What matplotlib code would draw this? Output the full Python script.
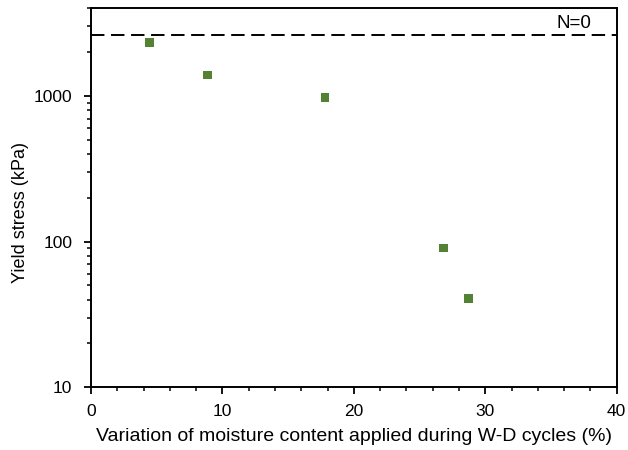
import matplotlib
matplotlib.use("Agg")
import matplotlib.pyplot as plt
from matplotlib.ticker import MultipleLocator, LogLocator, NullFormatter, FixedLocator, FixedFormatter

# -----------------------------
# Data
# -----------------------------
moisture_variation = [4.44, 8.88, 17.8, 26.8, 28.7]
yield_stress = [2330, 1395, 980, 90.5, 40.7]
reference_yield = 2630  # N=0
ref_label = "N=0"

x_label = "Variation of moisture content applied during W-D cycles (%)"
y_label = "Yield stress (kPa)"

plt.rcParams["font.family"] = ["Liberation Sans", "DejaVu Sans"]

fig = plt.figure(figsize=(6.28, 4.5), dpi=100)
ax = fig.add_axes([0.145, 0.1393, 0.837, 0.8423])

ax.axhline(reference_yield, color="black", lw=1.4, ls=(0, (6.9, 3.4)))
ax.scatter(moisture_variation, yield_stress, marker="s", s=40,
           color="#548235", edgecolors="none", zorder=3)
ax.text(38.1, 3150, ref_label, ha="right", va="center", fontsize=13.5)

ax.set_yscale("log")
ax.set_xlim(0, 40)
ax.set_ylim(10, 4000)

ax.xaxis.set_major_locator(MultipleLocator(10))
ax.xaxis.set_minor_locator(MultipleLocator(2))
ax.yaxis.set_major_locator(FixedLocator([10, 100, 1000]))
ax.yaxis.set_major_formatter(FixedFormatter(["10", "100", "1000"]))
ax.yaxis.set_minor_locator(LogLocator(base=10, subs=range(2, 10)))
ax.yaxis.set_minor_formatter(NullFormatter())

ax.tick_params(which="major", direction="out", length=5, width=1.3, labelsize=12.5)
ax.tick_params(which="minor", direction="out", length=3, width=1.1)
ax.tick_params(axis="x", which="major", pad=7)
ax.tick_params(axis="y", which="major", pad=8.5)
for s in ax.spines.values():
    s.set_linewidth(1.4)

ax.set_xlabel(x_label, fontsize=14, va="top")
ax.set_ylabel(y_label, fontsize=13)
ax.xaxis.set_label_coords(0.5, -0.107)
ax.yaxis.set_label_coords(-0.118, 0.461)

fig.savefig("out.png", dpi=100)
